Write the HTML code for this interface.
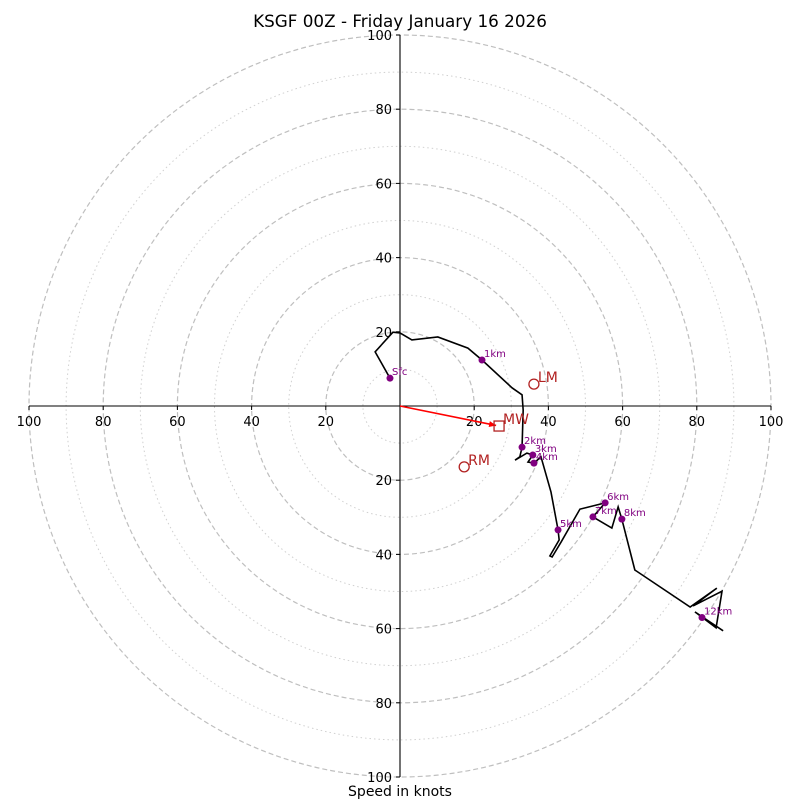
<!DOCTYPE html>
<html><head><meta charset="utf-8"><style>
body{margin:0;background:#fff;}
svg{display:block;font-family:"DejaVu Sans","Liberation Sans",sans-serif;}
</style></head><body>
<svg id="chart" width="800" height="800">
<text x="400" y="27" text-anchor="middle" font-size="16.8">KSGF 00Z - Friday January 16 2026</text>
<text x="400" y="796" text-anchor="middle" font-size="14">Speed in knots</text>
<g id="rings"></g>
<g id="axes"></g>
<g id="trace"></g>
<g id="marks"></g>
</svg>
<script>
const ringSpeeds=[10,20,30,40,50,60,70,80,90,100];
const tickLabels=[20,40,60,80,100];
const traceU=[-2.7,-6.7,-1.9,0,3.2,10.2,18.3,22.1,30.2,32.9,33.2,32.9,32.3,31.0,34.2,35.8,34.5,36.1,38.0,40.7,42.6,42.9,40.4,41.0,43.4,48.5,55.3,52.0,57.1,58.8,59.8,63.3,78.2,85.4,79.0,86.8,85.2,79.5,87.1];
const traceV=[7.5,14.6,19.9,19.7,17.8,18.6,15.6,12.4,4.9,3.0,-1.1,-11.1,-13.7,-14.6,-12.7,-13.2,-15.1,-15.4,-13.7,-23.2,-33.4,-36.1,-40.4,-40.7,-36.7,-27.8,-26.1,-29.9,-32.9,-27.2,-30.5,-44.2,-54.2,-49.1,-53.9,-49.9,-59.8,-55.5,-60.6];
const heightLabels=["Sfc","1km","2km","3km","4km","5km","6km","7km","8km","12km"];
const heightU=[-2.7,22.1,32.9,35.8,36.1,42.6,55.3,52.0,59.8,81.4];
const heightV=[7.5,12.4,-11.1,-13.2,-15.4,-33.4,-26.1,-29.9,-30.5,-57.0];
const motionLabels=["LM","RM","MW"];
const motionU=[36.1,17.3,26.7];
const motionV=[5.9,-16.4,-5.4];

const CX=400,CY=406,K=3.71;
const sx=u=>CX+u*K, sy=v=>CY-v*K;
const NS="http://www.w3.org/2000/svg";
function mk(tag,parent,attrs){const e=document.createElementNS(NS,tag);for(const k in attrs)e.setAttribute(k,attrs[k]);parent.appendChild(e);return e;}
const rings=document.getElementById('rings');
ringSpeeds.forEach(s=>{
  const c=mk('circle',rings,{cx:CX,cy:CY,r:s*K,fill:'none',stroke:s%20===0?'#bfbfbf':'#d0d0d0','stroke-width':s%20===0?1.2:1,'stroke-dasharray':s%20===0?'5,3':'1.5,3'});
  
  
});
const axes=document.getElementById('axes');
mk('line',axes,{x1:sx(-100),y1:CY,x2:sx(100),y2:CY,stroke:'#000','stroke-width':1.1});
mk('line',axes,{x1:CX,y1:sy(100),x2:CX,y2:sy(-100),stroke:'#000','stroke-width':1.1});
tickLabels.forEach(t=>{
  [-1,1].forEach(d=>{
    const x=sx(d*t);
    mk('line',axes,{x1:x,y1:CY,x2:x,y2:CY+4,stroke:'#000'});
    const tx=mk('text',axes,{x:x,y:CY+20,'text-anchor':'middle','font-size':13});
    tx.textContent=t;
    
    
    const y=sy(d*t);
    mk('line',axes,{x1:CX-4,y1:y,x2:CX,y2:y,stroke:'#000'});
    const ty=mk('text',axes,{x:CX-8,y:y+5,'text-anchor':'end','font-size':13});
    ty.textContent=t;
    
    
  });
});
const trace=document.getElementById('trace');
const pl=mk('polyline',trace,{points:traceU.map((u,i)=>sx(u)+','+sy(traceV[i])).join(' '),fill:'none',stroke:'#000','stroke-width':1.6,'stroke-linejoin':'miter'});


const marks=document.getElementById('marks');
heightLabels.forEach((l,i)=>{
  const c=mk('circle',marks,{cx:sx(heightU[i]),cy:sy(heightV[i]),r:3.5,fill:'purple'});
  
  
  const t=mk('text',marks,{x:sx(heightU[i])+2,y:sy(heightV[i])-3,'font-size':10,fill:'purple'});
  t.textContent=l;
  
  
});
const mwx=sx(motionU[2]),mwy=sy(motionV[2]);
const ang=Math.atan2(mwy-CY,mwx-CX);
const ex=mwx-3*Math.cos(ang),ey=mwy-3*Math.sin(ang);
const ar=mk('line',marks,{x1:CX,y1:CY,x2:ex,y2:ey,stroke:'red','stroke-width':1.6});


const hx=ex,hy=ey,L=7,W=3;
mk('polygon',marks,{points:[hx,hy,hx-L*Math.cos(ang)+W*Math.sin(ang),hy-L*Math.sin(ang)-W*Math.cos(ang),hx-L*Math.cos(ang)-W*Math.sin(ang),hy-L*Math.sin(ang)+W*Math.cos(ang)].join(','),fill:'red'});
motionLabels.forEach((l,i)=>{
  const x=sx(motionU[i]),y=sy(motionV[i]);
  let m;
  if(l==='MW') m=mk('rect',marks,{x:x-5,y:y-5,width:10,height:10,fill:'none',stroke:'#b22222','stroke-width':1.3});
  else m=mk('circle',marks,{cx:x,cy:y,r:5,fill:'none',stroke:'#b22222','stroke-width':1.3});
  
  
  const t=mk('text',marks,{x:x+4,y:y-2,'font-size':14,fill:'#b22222'});
  t.textContent=l;
  
  
});
</script>
</body></html>
